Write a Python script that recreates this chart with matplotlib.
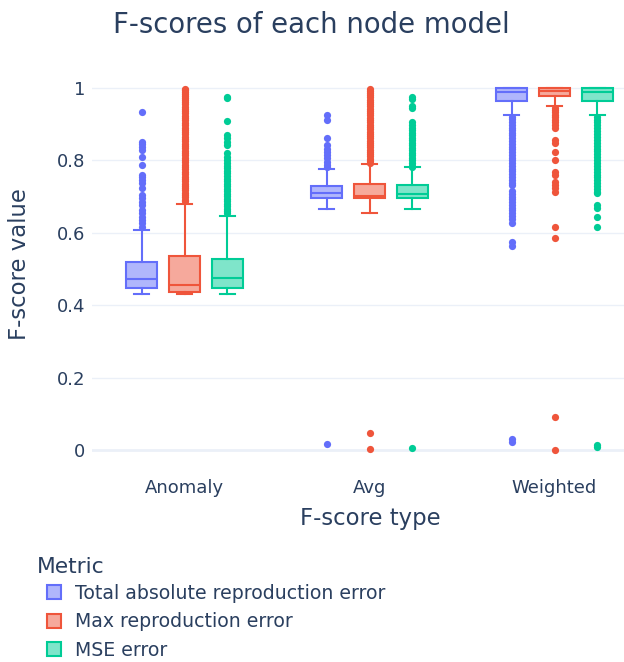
import matplotlib
matplotlib.use("Agg")
import matplotlib.pyplot as plt
from matplotlib.patches import Patch
from matplotlib.colors import to_rgba

plt.rcParams['font.family'] = ['DejaVu Sans']

categories = ["Anomaly", "Avg", "Weighted"]
metrics = ["Total absolute reproduction error", "Max reproduction error", "MSE error"]
colors = ["#636EFA", "#EF553B", "#00CC96"]

# box statistics [Anomaly, Avg, Weighted] for each metric
q1 = {
    "Total absolute reproduction error": [0.447, 0.695, 0.965],
    "Max reproduction error": [0.437, 0.695, 0.978],
    "MSE error": [0.447, 0.695, 0.965],
}
median = {
    "Total absolute reproduction error": [0.472, 0.709, 0.990],
    "Max reproduction error": [0.456, 0.703, 0.992],
    "MSE error": [0.474, 0.707, 0.990],
}
q3 = {
    "Total absolute reproduction error": [0.518, 0.730, 0.999],
    "Max reproduction error": [0.537, 0.735, 0.999],
    "MSE error": [0.528, 0.732, 0.999],
}
whisker_low = {
    "Total absolute reproduction error": [0.431, 0.665, 0.927],
    "Max reproduction error": [0.431, 0.654, 0.950],
    "MSE error": [0.431, 0.665, 0.925],
}
whisker_high = {
    "Total absolute reproduction error": [0.608, 0.775, 1.0],
    "Max reproduction error": [0.681, 0.789, 1.0],
    "MSE error": [0.646, 0.781, 1.0],
}

outliers = {
    "Total absolute reproduction error": [
        [0.934, 0.852, 0.845, 0.838, 0.829, 0.809, 0.788, 0.760, 0.753, 0.746, 0.737,
         0.723, 0.705, 0.695, 0.686, 0.677, 0.663, 0.654, 0.645, 0.635, 0.626, 0.617],
        [0.925, 0.912, 0.861, 0.843, 0.833, 0.824, 0.815, 0.806, 0.797, 0.788, 0.781, 0.016],
        [0.921, 0.914, 0.906, 0.899, 0.891, 0.884, 0.876, 0.869, 0.861, 0.853, 0.846,
         0.838, 0.831, 0.823, 0.815, 0.808, 0.800, 0.792, 0.785, 0.777, 0.770, 0.762,
         0.754, 0.746, 0.739, 0.731, 0.716, 0.708, 0.700, 0.693, 0.685, 0.677, 0.669,
         0.662, 0.654, 0.646, 0.637, 0.626, 0.575, 0.563, 0.030, 0.022],
    ],
    "Max reproduction error": [
        [0.998, 0.994, 0.989, 0.985, 0.978, 0.972, 0.966, 0.961, 0.955, 0.948, 0.943,
         0.936, 0.930, 0.924, 0.917, 0.911, 0.904, 0.898, 0.891, 0.885, 0.878, 0.872,
         0.866, 0.859, 0.853, 0.846, 0.840, 0.834, 0.827, 0.821, 0.815, 0.808, 0.801,
         0.795, 0.788, 0.781, 0.775, 0.768, 0.762, 0.755, 0.749, 0.743, 0.736, 0.730,
         0.724, 0.717, 0.711, 0.705, 0.698, 0.692, 0.687],
        [0.998, 0.993, 0.987, 0.981, 0.975, 0.968, 0.962, 0.956, 0.950, 0.943, 0.937,
         0.931, 0.925, 0.918, 0.912, 0.906, 0.899, 0.893, 0.887, 0.880, 0.874, 0.868,
         0.861, 0.855, 0.849, 0.842, 0.836, 0.830, 0.823, 0.817, 0.811, 0.804, 0.798,
         0.792, 0.046, 0.002],
        [0.946, 0.940, 0.933, 0.926, 0.919, 0.912, 0.905, 0.898, 0.891, 0.856, 0.847,
         0.824, 0.801, 0.769, 0.760, 0.741, 0.732, 0.723, 0.714, 0.617, 0.585, 0.092, 0.0],
    ],
    "MSE error": [
        [0.976, 0.972, 0.909, 0.870, 0.861, 0.852, 0.843, 0.820, 0.810, 0.801, 0.792,
         0.785, 0.778, 0.771, 0.764, 0.757, 0.750, 0.743, 0.736, 0.729, 0.722, 0.715,
         0.708, 0.701, 0.694, 0.687, 0.680, 0.673, 0.666, 0.659, 0.654],
        [0.974, 0.969, 0.950, 0.944, 0.907, 0.898, 0.889, 0.884, 0.877, 0.870, 0.863,
         0.856, 0.849, 0.842, 0.835, 0.828, 0.821, 0.814, 0.807, 0.800, 0.793, 0.786,
         0.783, 0.006],
        [0.921, 0.913, 0.905, 0.897, 0.889, 0.881, 0.873, 0.865, 0.857, 0.849, 0.841,
         0.833, 0.825, 0.817, 0.809, 0.801, 0.793, 0.785, 0.777, 0.769, 0.761, 0.753,
         0.745, 0.737, 0.729, 0.721, 0.713, 0.709, 0.677, 0.668, 0.645, 0.617, 0.013,
         0.009],
    ],
}

text_color = "#2a3f5f"
grid_color = "#EBF0F8"

fig = plt.figure(figsize=(6.24, 6.62), dpi=100)
W, H = 624, 662
left_px, right_px, top_px, bot_px = 92, 624, 70, 468
ax = fig.add_axes([left_px / W, 1 - bot_px / H, (right_px - left_px) / W, (bot_px - top_px) / H])

offsets = [-0.2324, 0.0, 0.2324]
box_w = 0.168
for m_i, m in enumerate(metrics):
    c = colors[m_i]
    stats = []
    pos = []
    for c_i, cat in enumerate(categories):
        stats.append(dict(med=median[m][c_i], q1=q1[m][c_i], q3=q3[m][c_i],
                          whislo=whisker_low[m][c_i], whishi=whisker_high[m][c_i],
                          fliers=outliers[m][c_i], label=cat))
        pos.append(c_i + offsets[m_i])
    ax.bxp(stats, positions=pos, widths=box_w, capwidths=box_w / 2, patch_artist=True,
           boxprops=dict(facecolor=to_rgba(c, 0.5), edgecolor=c, linewidth=1.5),
           whiskerprops=dict(color=c, linewidth=1.5),
           capprops=dict(color=c, linewidth=1.5),
           medianprops=dict(color=c, linewidth=1.5),
           flierprops=dict(marker='o', markerfacecolor=c, markeredgewidth=0,
                           markersize=5.2, alpha=1.0),
           zorder=3)

ax.set_xlim(-0.5, -0.5 + (right_px - left_px) / 185.0)
ax.set_ylim(-0.05, 1.05)
ax.set_xticks([0, 1, 2])
ax.set_xticklabels(categories)
yt = [0, 0.2, 0.4, 0.6, 0.8, 1]
ax.set_yticks(yt)
ax.set_yticklabels(["0", "0.2", "0.4", "0.6", "0.8", "1"])
for s in ax.spines.values():
    s.set_visible(False)
ax.tick_params(axis='both', length=0, labelsize=13, colors=text_color)
ax.tick_params(axis='x', pad=8)
ax.tick_params(axis='y', pad=5)
for y in yt:
    ax.axhline(y, color=grid_color, linewidth=2 if y == 0 else 1, zorder=0)

fig.text(311.5 / W, 1 - 25 / H, "F-scores of each node model", ha='center', va='center',
         fontsize=19.8, color=text_color)
fig.text(370 / W, 1 - 518 / H, "F-score type", ha='center', va='center',
         fontsize=16.4, color=text_color)
fig.text(20 / W, 1 - 264 / H, "F-score value", ha='center', va='center',
         rotation=90, fontsize=16.4, color=text_color)

fig.text(37 / W, 1 - 567 / H, "Metric", ha='left', va='center',
         fontsize=15.7, color=text_color)
handles = [Patch(facecolor=to_rgba(c, 0.5), edgecolor=c, linewidth=1.5) for c in colors]
leg = fig.legend(handles, metrics, loc='upper left', bbox_to_anchor=(47 / W, 1 - 584 / H),
                 frameon=False, fontsize=13.6, handlelength=0.75, handleheight=0.75,
                 handletextpad=0.75, labelspacing=0.49, borderpad=0, borderaxespad=0)
for t in leg.get_texts():
    t.set_color(text_color)

fig.savefig("out.png", dpi=100)
